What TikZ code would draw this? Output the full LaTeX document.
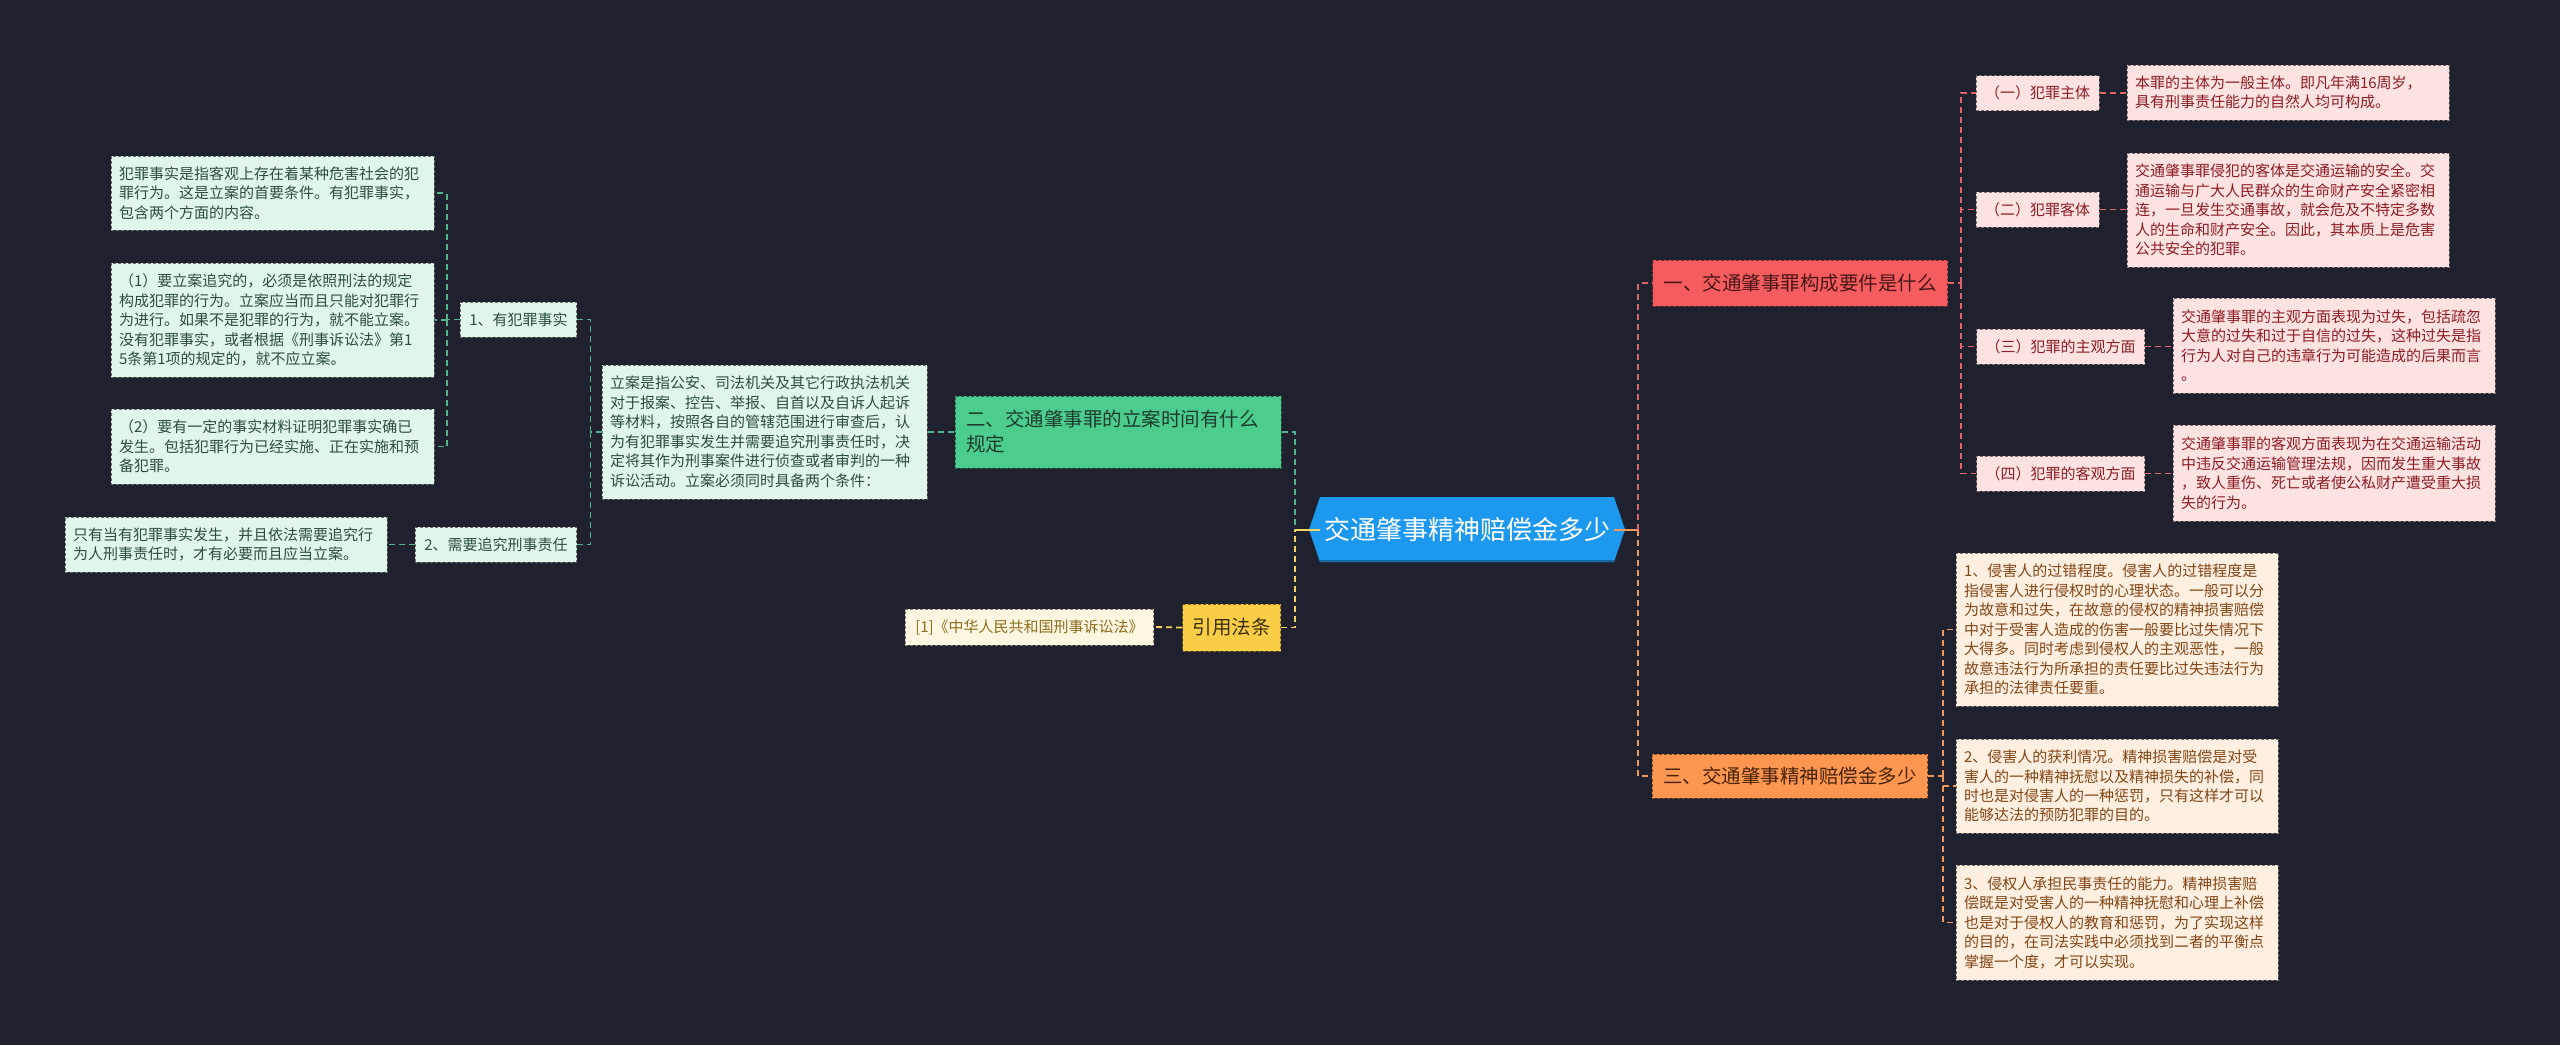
\documentclass[tikz,border=0pt]{standalone}
\usepackage{fontspec}
\setmainfont{Noto Sans CJK SC}
\usepackage{xcolor}
\usepackage{tikz}
\usetikzlibrary{positioning,calc}
\definecolor{bgnavy}{RGB}{31,34,46}
\definecolor{rootblue}{RGB}{28,152,238}
\definecolor{mintfill}{RGB}{224,246,235}
\definecolor{minttext}{RGB}{44,78,62}
\definecolor{mintline}{RGB}{84,180,140}
\definecolor{greenfill}{RGB}{76,204,142}
\definecolor{greentext}{RGB}{30,60,45}
\definecolor{yellowfill}{RGB}{250,205,70}
\definecolor{yellowtext}{RGB}{60,48,12}
\definecolor{yellowline}{RGB}{245,212,95}
\definecolor{creamfill}{RGB}{253,247,225}
\definecolor{creamtext}{RGB}{140,108,30}
\definecolor{redfill}{RGB}{245,92,95}
\definecolor{redtext}{RGB}{72,22,22}
\definecolor{redline}{RGB}{225,100,105}
\definecolor{pinkfill}{RGB}{253,226,226}
\definecolor{pinktext}{RGB}{140,30,36}
\definecolor{orangefill}{RGB}{252,150,80}
\definecolor{orangetext}{RGB}{72,36,10}
\definecolor{orangeline}{RGB}{240,152,92}
\definecolor{peachfill}{RGB}{254,239,225}
\definecolor{peachtext}{RGB}{130,70,22}

\begin{document}
\begin{tikzpicture}[x=1pt, y=-1pt,
    box/.style={draw, dash pattern=on 3pt off 2pt, line width=1pt, inner xsep=8pt, inner ysep=0pt,
        align=left, font=\fontsize{15}{19.5}\selectfont},
    tag/.style={box, align=center, inner xsep=9pt, minimum height=35pt},
    mint/.style={fill=mintfill, draw=mintfill!45!black, text=minttext},
    pink/.style={fill=pinkfill, draw=pinkfill!50!black, text=pinktext},
    peach/.style={fill=peachfill, draw=peachfill!50!black, text=peachtext},
    branch/.style={box, align=left, inner xsep=11pt, font=\fontsize{19.5}{25}\selectfont},
    link/.style={dash pattern=on 6pt off 4pt, line width=1.8pt},
]
    \useasboundingbox (0,0) rectangle (2560,1045);
    \fill[bgnavy] (0,0) rectangle (2560,1045);

    % Root
    \fill[rootblue] (1309,529.5) -- (1320,497) -- (1614,497) -- (1625,529.5) -- (1614,562) -- (1320,562) -- cycle;
    \draw[rootblue!70!black, line width=1.5pt] (1320,561) -- (1614,561);
    \node[font=\fontsize{26}{30}\selectfont, text=white] (root) at (1467,529.5) {交通肇事精神赔偿金多少};

    % Left branch: 立案时间
    \node[branch, fill=greenfill, draw=greenfill!50!black, text=greentext, text width=304pt, minimum height=72pt] (g) at (1118,432)
        {二、交通肇事罪的立案时间有什么\\规定};
    \node[box, mint, text width=309pt, minimum height=134pt] (lian) at (764.5,432)
        {立案是指公安、司法机关及其它行政执法机关\\对于报案、控告、举报、自首以及自诉人起诉\\等材料，按照各自的管辖范围进行审查后，认\\为有犯罪事实发生并需要追究刑事责任时，决\\定将其作为刑事案件进行侦查或者审判的一种\\诉讼活动。立案必须同时具备两个条件：};
    \node[tag, mint] (n1) at (518.5,319.5) {1、有犯罪事实};
    \node[tag, mint] (n2) at (496,544.5) {2、需要追究刑事责任};
    \node[box, mint, text width=307pt, minimum height=74pt] (a1) at (272.5,193)
        {犯罪事实是指客观上存在着某种危害社会的犯\\罪行为。这是立案的首要条件。有犯罪事实，\\包含两个方面的内容。};
    \node[box, mint, text width=307pt, minimum height=114pt] (a2) at (272.5,320)
        {（1）要立案追究的，必须是依照刑法的规定\\构成犯罪的行为。立案应当而且只能对犯罪行\\为进行。如果不是犯罪的行为，就不能立案。\\没有犯罪事实，或者根据《刑事诉讼法》第1\\5条第1项的规定的，就不应立案。};
    \node[box, mint, text width=307pt, minimum height=75pt] (a3) at (272.5,446.5)
        {（2）要有一定的事实材料证明犯罪事实确已\\发生。包括犯罪行为已经实施、正在实施和预\\备犯罪。};
    \node[box, mint, text width=306pt, minimum height=55pt] (b1) at (226,544.5)
        {只有当有犯罪事实发生，并且依法需要追究行\\为人刑事责任时，才有必要而且应当立案。};

    % Left branch: 引用法条
    \node[branch, align=center, inner xsep=10pt, fill=yellowfill, draw=yellowfill!50!black, text=yellowtext, minimum height=47pt] (yl) at (1231.5,627.5) {引用法条};
    \node[tag, fill=creamfill, draw=creamfill!50!black, text=creamtext, inner xsep=10pt, minimum height=36pt] (ref) at (1029.5,627) {[1]《中华人民共和国刑事诉讼法》};

    % Right branch: 构成要件
    \node[branch, align=center, fill=redfill, draw=redfill!50!black, text=redtext, minimum height=46pt] (r1) at (1800,283) {一、交通肇事罪构成要件是什么};
    \node[tag, pink] (p1) at (2037.5,93) {（一）犯罪主体};
    \node[tag, pink] (p2) at (2037.5,209.5) {（二）犯罪客体};
    \node[tag, pink] (p3) at (2060.5,346.5) {（三）犯罪的主观方面};
    \node[tag, pink] (p4) at (2060.5,473.5) {（四）犯罪的客观方面};
    \node[box, pink, text width=306pt, minimum height=55pt] (d1) at (2288,92.5)
        {本罪的主体为一般主体。即凡年满16周岁，\\具有刑事责任能力的自然人均可构成。};
    \node[box, pink, text width=306pt, minimum height=114pt] (d2) at (2288,210)
        {交通肇事罪侵犯的客体是交通运输的安全。交\\通运输与广大人民群众的生命财产安全紧密相\\连，一旦发生交通事故，就会危及不特定多数\\人的生命和财产安全。因此，其本质上是危害\\公共安全的犯罪。};
    \node[box, pink, text width=306pt, minimum height=95pt] (d3) at (2334,345.5)
        {交通肇事罪的主观方面表现为过失，包括疏忽\\大意的过失和过于自信的过失，这种过失是指\\行为人对自己的违章行为可能造成的后果而言\\。};
    \node[box, pink, text width=306pt, minimum height=96pt] (d4) at (2334,473)
        {交通肇事罪的客观方面表现为在交通运输活动\\中违反交通运输管理法规，因而发生重大事故\\，致人重伤、死亡或者使公私财产遭受重大损\\失的行为。};

    % Right branch: 赔偿金
    \node[branch, align=center, fill=orangefill, draw=orangefill!50!black, text=orangetext, minimum height=44pt] (o) at (1790,776) {三、交通肇事精神赔偿金多少};
    \node[box, peach, text width=306pt, minimum height=153pt] (e1) at (2117,629.5)
        {1、侵害人的过错程度。侵害人的过错程度是\\指侵害人进行侵权时的心理状态。一般可以分\\为故意和过失，在故意的侵权的精神损害赔偿\\中对于受害人造成的伤害一般要比过失情况下\\大得多。同时考虑到侵权人的主观恶性，一般\\故意违法行为所承担的责任要比过失违法行为\\承担的法律责任要重。};
    \node[box, peach, text width=306pt, minimum height=94pt] (e2) at (2117,786)
        {2、侵害人的获利情况。精神损害赔偿是对受\\害人的一种精神抚慰以及精神损失的补偿，同\\时也是对侵害人的一种惩罚，只有这样才可以\\能够达法的预防犯罪的目的。};
    \node[box, peach, text width=306pt, minimum height=115pt] (e3) at (2117,922.5)
        {3、侵权人承担民事责任的能力。精神损害赔\\偿既是对受害人的一种精神抚慰和心理上补偿\\也是对于侵权人的教育和惩罚，为了实现这样\\的目的，在司法实践中必须找到二者的平衡点\\掌握一个度，才可以实现。};

    % Connectors around the root
    \coordinate (lbus) at (1295,529.5);
    \coordinate (rbus) at (1638,529.5);
    \draw[link, mintline] (g.east) -| (lbus);
    \draw[link, yellowline] (yl.east) -| (lbus);
    \draw[yellowline, line width=2pt] (lbus) -- (root.west);
    \draw[orangeline, line width=2pt] (root.east) -- (rbus);
    \draw[link, redline] (rbus) |- (r1.west);
    \draw[link, orangeline] (rbus) |- (o.west);

    % Connectors, left side
    \draw[link, mintline] (lian.east) -- (g.west);
    \draw[link, mintline] (lian.west) -- ++(-11,0) coordinate (lianbus);
    \draw[link, mintline] (lianbus) |- (n1.east);
    \draw[link, mintline] (lianbus) |- (n2.east);
    \draw[link, mintline] (n1.west) -- ++(-13,0) coordinate (n1bus);
    \foreach \leaf in {a1,a2,a3} {
        \draw[link, mintline] (n1bus) |- (\leaf.east);
    }
    \draw[link, mintline] (n2.west) -- (b1.east);
    \draw[link, yellowline] (yl.west) -- (ref.east);

    % Connectors, right side
    \draw[link, redline] (r1.east) -- ++(13,0) coordinate (r1bus);
    \foreach \i in {1,...,4} {
        \draw[link, redline] (r1bus) |- (p\i.west);
        \draw[link, redline] (p\i.east) -- (p\i.east -| d\i.west);
    }
    \draw[link, orangeline] (o.east) -- ++(15,0) coordinate (obus);
    \foreach \leaf in {e1,e2,e3} {
        \draw[link, orangeline] (obus) |- (\leaf.west);
    }
\end{tikzpicture}
\end{document}
